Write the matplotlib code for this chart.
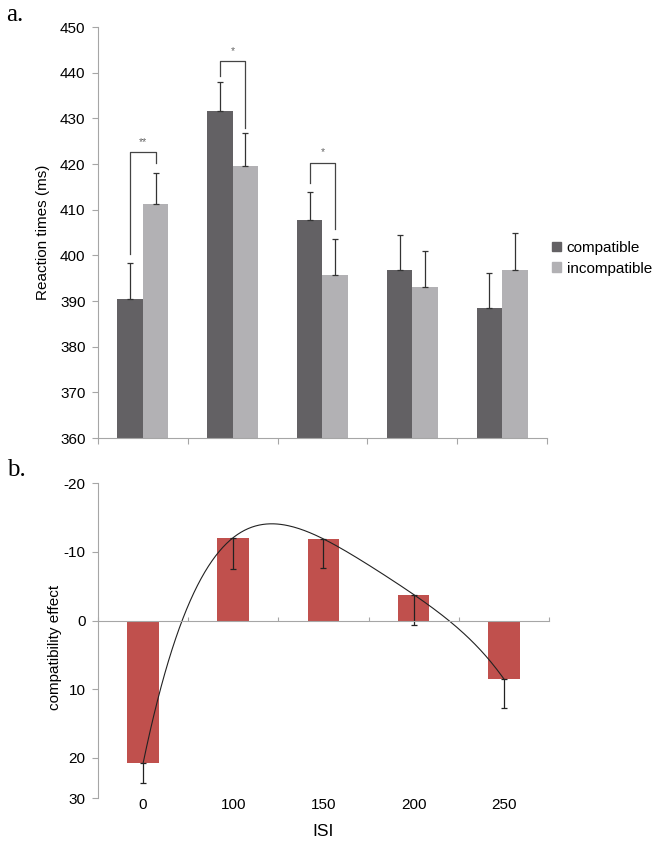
import numpy as np
import matplotlib
matplotlib.use('Agg')
from matplotlib import pyplot as plt
from matplotlib.patches import Patch

plt.rcParams['font.family'] = ['Liberation Sans', 'DejaVu Sans']

# panel a data
groups = ['0', '100', '150', '200', '250']
compatible = [390.4, 431.7, 407.7, 396.9, 388.4]
compatible_err = [7.9, 6.2, 6.2, 7.5, 7.7]
incompatible = [411.2, 419.6, 395.8, 393.1, 396.9]
incompatible_err = [6.9, 7.2, 7.7, 7.8, 8.1]

# significance brackets (group index, left end, right end, top, label)
br_group = [0, 1, 2]
br_left = [400.3, 439.3, 415.9]
br_right = [420.2, 427.9, 405.7]
br_top = [422.6, 442.5, 420.3]
br_label = ['**', '*', '*']

# panel b data
isi = ['0', '100', '150', '200', '250']
effect = [20.8, -12.1, -11.9, -3.8, 8.5]
effect_err = [2.9, 4.6, 4.2, 4.5, 4.2]

dark = '#636164'
light = '#b2b1b4'
red = '#c0504d'
axcol = '#a6a6a6'
fs = 11

fig = plt.figure(figsize=(6.58, 8.44), dpi=100)

# ---------- panel a ----------
ax = fig.add_axes([0.1489, 0.4810, 0.6824, 0.4870])
x = np.arange(len(groups))
w = 0.283
ax.bar(x - w/2, compatible, w, color=dark, label='compatible')
ax.bar(x + w/2, incompatible, w, color=light, label='incompatible')
ax.errorbar(x - w/2, compatible, yerr=[[0]*5, compatible_err], fmt='none',
            ecolor='#333333', elinewidth=0.9, capsize=2, capthick=0.9)
ax.errorbar(x + w/2, incompatible, yerr=[[0]*5, incompatible_err], fmt='none',
            ecolor='#333333', elinewidth=0.9, capsize=2, capthick=0.9)

for g, l, r, t, s in zip(br_group, br_left, br_right, br_top, br_label):
    ax.plot([g - w/2, g - w/2, g + w/2, g + w/2], [l, t, t, r],
            color='#444444', lw=0.9)
    ax.text(g, t + 1.2, s, ha='center', va='bottom', fontsize=7.5, color='#666666')

ax.set_ylim(360, 450)
ax.set_xlim(-0.5, 4.5)
ax.set_yticks(np.arange(360, 451, 10))
ax.set_xticks(np.arange(-0.5, 4.6, 1))
ax.set_xticklabels([])
ax.tick_params(axis='x', direction='out', length=4, color=axcol)
ax.tick_params(axis='y', direction='out', length=4, color=axcol, labelsize=fs,
               pad=5)
for s in ['top', 'right']:
    ax.spines[s].set_visible(False)
for s in ['left', 'bottom']:
    ax.spines[s].set_color(axcol)
ax.set_ylabel('Reaction times (ms)', fontsize=fs, va='center')
ax.yaxis.set_label_coords(-0.123, 0.5)

handles = [Patch(color=dark), Patch(color=light)]
fig.legend(handles, ['compatible', 'incompatible'], loc='center left',
           bbox_to_anchor=(0.818, 0.694), frameon=False, fontsize=fs,
           handlelength=0.6, handleheight=0.6, handletextpad=0.35,
           labelspacing=0.45)

fig.text(0.010, 0.982, 'a.', family='Liberation Serif', fontsize=18,
         va='center', ha='left')

# ---------- panel b ----------
bx = fig.add_axes([0.1489, 0.0541, 0.6854, 0.3732])
xb = np.arange(len(isi))
bx.bar(xb, effect, 0.35, color=red)
bx.errorbar(xb, effect, yerr=[[0]*5, effect_err], fmt='none', ecolor='#222222',
            elinewidth=0.9, capsize=2, capthick=0.9)

# polynomial trend line
coef = np.polyfit(xb, effect, 4)
xs = np.linspace(0, 4, 200)
bx.plot(xs, np.polyval(coef, xs), color='#222222', lw=0.8)

bx.set_xlim(-0.5, 4.5)
bx.set_ylim(25.9, -20)
bx.set_yticks([-20, -10, 0, 10, 20, 25.9])
bx.set_yticklabels(['-20', '-10', '0', '10', '20', '30'])
bx.set_xticks(np.arange(-0.5, 4.6, 1))
bx.set_xticklabels([])
bx.spines['bottom'].set_position(('data', 0))
bx.tick_params(axis='x', direction='in', length=3, color=axcol)
bx.tick_params(axis='y', direction='out', length=4, color=axcol, labelsize=fs,
               pad=5)
for s in ['top', 'right']:
    bx.spines[s].set_visible(False)
for s in ['left', 'bottom']:
    bx.spines[s].set_color(axcol)
for i, lab in enumerate(isi):
    bx.text(i, -0.02, lab, transform=bx.get_xaxis_transform(), ha='center',
            va='center', fontsize=fs)
bx.text(0.5, -0.105, 'ISI', transform=bx.transAxes, ha='center', va='center',
        fontsize=12.5)
bx.set_ylabel('compatibility effect', fontsize=fs, va='center')
bx.yaxis.set_label_coords(-0.095, 0.48)

fig.text(0.010, 0.443, 'b.', family='Liberation Serif', fontsize=18,
         va='center', ha='left')

fig.savefig('out.png', dpi=100)
